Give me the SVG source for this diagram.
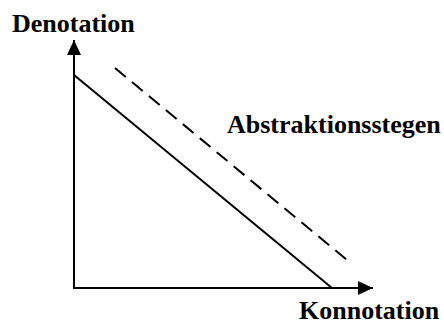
<svg xmlns="http://www.w3.org/2000/svg" width="444" height="324" viewBox="0 0 444 324">
<style>
.t{font-family:'Liberation Serif','Times New Roman',Times,serif;font-weight:bold;font-size:26px;fill:#000}
.ax{stroke:#000;stroke-width:2;fill:none}
.ln{stroke:#000;stroke-width:2;fill:none}
</style>
<defs>
<marker id="ah" markerUnits="userSpaceOnUse" markerWidth="16" markerHeight="14" refX="15" refY="7" orient="auto">
<path d="M0,0 L15,7 L0,14 Z" fill="#000"/>
</marker>
</defs>
<rect width="444" height="324" fill="#fff"/>
<g id="connectors">
<path class="ax" d="M74,289 L74,40" marker-end="url(#ah)"/>
<path class="ax" d="M73,288 L373,288" marker-end="url(#ah)"/>
<path class="ln" d="M74,75 L332,288"/>
<path class="ln" d="M115,68 L347,260" stroke-dasharray="14,8"/>
</g>
<g id="denotation"><text class="t" x="12" y="32">Denotation</text></g>
<g id="abstraktionsstegen"><text class="t" x="227" y="133">Abstraktionsstegen</text></g>
<g id="konnotation"><text class="t" x="299" y="319">Konnotation</text></g>
</svg>
